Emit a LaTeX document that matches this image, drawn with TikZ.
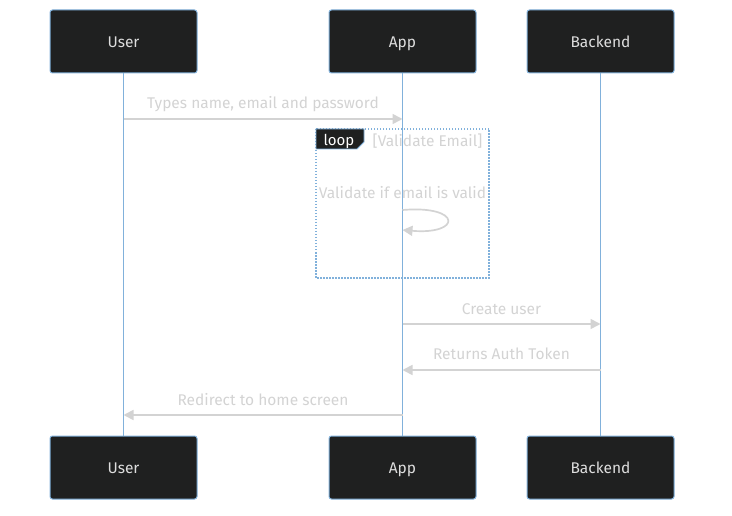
\documentclass[tikz,border=0pt]{standalone}
\usepackage{fontspec}
\setmainfont{Fira Sans}
\usetikzlibrary{arrows.meta}
\definecolor{actorfill}{HTML}{1F2020}
\definecolor{actorline}{HTML}{81B1DB}
\definecolor{msggray}{HTML}{D3D3D3}
\definecolor{actortext}{HTML}{DDDDDD}
\tikzset{
  actor/.style={draw=actorline, fill=actorfill, rounded corners=2.5pt, line width=1pt,
    minimum width=147pt, minimum height=63pt, inner sep=0pt,
    text height=14pt, text depth=2pt,
    text=actortext, font=\fontsize{15.5}{18}\selectfont},
  lifeline/.style={draw=actorline, line width=1.7pt},
  msg/.style={draw=msggray, line width=1.7pt, -{Triangle[length=10pt,width=10pt]}},
  msglabel/.style={text=msggray, font=\fontsize{15.5}{18}\selectfont, inner sep=0pt,
    text height=14pt, text depth=2pt},
  loopframe/.style={draw=actorline, line width=1.5pt, dash pattern=on 1.5pt off 1.5pt},
}
\begin{document}
\begin{tikzpicture}[x=1pt,y=-1pt]
\useasboundingbox (0,0) rectangle (732,516);
% participants
\node[actor] (userT) at (123.5,41.5) {User};
\node[actor] (appT) at (402.5,41.5) {App};
\node[actor] (backT) at (600.5,41.5) {Backend};
\node[actor] (userB) at (123.5,467.5) {User};
\node[actor] (appB) at (402.5,467.5) {App};
\node[actor] (backB) at (600.5,467.5) {Backend};
% lifelines
\draw[lifeline] (userT.south) -- (userB.north);
\draw[lifeline] (appT.south) -- (appB.north);
\draw[lifeline] (backT.south) -- (backB.north);
% message anchors on the lifelines
\coordinate (u1) at (123.5,119);
\coordinate (a1) at (402.5,119);
\coordinate (a2) at (402.5,210);
\coordinate (a3) at (402.5,230);
\coordinate (a4) at (402.5,324);
\coordinate (b4) at (600.5,324);
\coordinate (a5) at (402.5,370);
\coordinate (b5) at (600.5,370);
\coordinate (a6) at (402.5,415);
\coordinate (u6) at (123.5,415);
% loop frame
\draw[loopframe] (316,129) rectangle (489,278);
\draw[draw=actorline, fill=actorfill, line width=0.8pt]
  (316,129) -- (364,129) -- (364,142) -- (357,149) -- (316,149) -- cycle;
\node[text=white, font=\fontsize{15}{18}\selectfont, inner sep=0pt,
  text height=14pt, text depth=2pt] (looplbl) at (339,140) {loop};
\node[msglabel] (loopcond) at (427.5,141) {[Validate Email]};
% messages
\draw[msg] (u1) -- (a1);
\node[msglabel] (m1) at (263,103) {Types name, email and password};
\node[msglabel] (m2) at (402.5,193) {Validate if email is valid};
\draw[msg] (a2) .. controls (462,205) and (462,235) .. (a3);
\draw[msg] (a4) -- (b4);
\node[msglabel] (m3) at (501.5,308) {Create user};
\draw[msg] (b5) -- (a5);
\node[msglabel] (m4) at (501.5,353.5) {Returns Auth Token};
\draw[msg] (a6) -- (u6);
\node[msglabel] (m5) at (263,399) {Redirect to home screen};
\end{tikzpicture}
\end{document}
